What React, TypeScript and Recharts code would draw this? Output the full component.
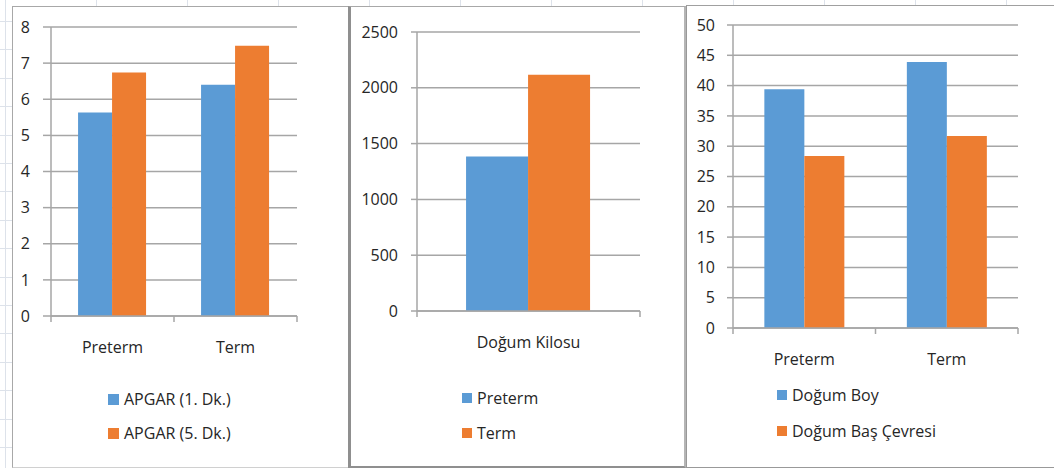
import React from 'react';
import { BarChart, Bar, XAxis, YAxis, CartesianGrid, Legend } from 'recharts';

const BLUE = '#5B9BD5';
const ORANGE = '#ED7D31';
const GRID = '#a6a6a6';
const TEXT = '#262626';
const FONT = '"Open Sans", "Noto Sans", sans-serif';

// APGAR scores by group
const apgarGroups = ['Preterm', 'Term'];
const apgar1 = [5.63, 6.4];
const apgar5 = [6.74, 7.48];
const apgarTicks = [0, 1, 2, 3, 4, 5, 6, 7, 8];

// Birth weight
const weightCategories = ['Doğum Kilosu'];
const weightPreterm = [1385];
const weightTerm = [2118];
const weightTicks = [0, 500, 1000, 1500, 2000, 2500];

// Birth length and head circumference
const sizeGroups = ['Preterm', 'Term'];
const birthLength = [39.4, 43.9];
const headCircumference = [28.4, 31.7];
const sizeTicks = [0, 5, 10, 15, 20, 25, 30, 35, 40, 45, 50];

type Series = { key: string; name: string; color: string };

interface PanelProps {
  data: Record<string, string | number>[];
  series: Series[];
  ticks: number[];
  left: number;
  top: number;
  width: number;
  height: number;
  marginTop: number;
  marginRight: number;
  yWidth: number;
  xHeight: number;
  tickSize: number;
  tickMargin: number;
  legendLeft: number;
  legendTop: number;
  legendRow: number;
  legendBox: number;
}

// Category axis tick: label in the middle, small tick marks on the band edges
const makeCategoryTick = (band: number, count: number) => (props: any) => {
  const { x, y, payload, index } = props;
  return (
    <g>
      <line x1={x - band / 2} x2={x - band / 2} y1={y} y2={y + 6} stroke={GRID} strokeWidth={1.5} />
      {index === count - 1 && (
        <line x1={x + band / 2} x2={x + band / 2} y1={y} y2={y + 6} stroke={GRID} strokeWidth={1.5} />
      )}
      <text x={x} y={y + 31} textAnchor="middle" dominantBaseline="central" fill={TEXT} fontSize={16} fontFamily={FONT}>
        {payload.value}
      </text>
    </g>
  );
};

const Panel: React.FC<PanelProps> = (p) => {
  const plotWidth = p.width - p.yWidth - p.marginRight;
  const band = plotWidth / p.data.length;
  const max = p.ticks[p.ticks.length - 1];

  // series order is kept as declared (the default legend sorts by name)
  const renderLegend = () => (
    <div style={{ fontFamily: FONT, fontSize: 16, color: TEXT }}>
      {p.series.map((s) => (
        <div key={s.key} style={{ height: p.legendRow, display: 'flex', alignItems: 'center' }}>
          <span style={{ width: p.legendBox, height: p.legendBox, background: s.color, marginRight: 5, display: 'inline-block' }} />
          <span>{s.name}</span>
        </div>
      ))}
    </div>
  );

  return (
    <div style={{ position: 'absolute', left: p.left, top: p.top }}>
      <BarChart
        width={p.width}
        height={p.height}
        data={p.data}
        margin={{ top: p.marginTop, right: p.marginRight, left: 0, bottom: 0 }}
        barCategoryGap="22%"
        barGap={0}
      >
        <CartesianGrid vertical={false} stroke={GRID} strokeWidth={1.5} />
        <XAxis
          dataKey="name"
          height={p.xHeight}
          axisLine={{ stroke: GRID, strokeWidth: 1.5 }}
          tickLine={false}
          tickSize={0}
          tickMargin={0}
          interval={0}
          tick={makeCategoryTick(band, p.data.length)}
        />
        <YAxis
          width={p.yWidth}
          domain={[0, max]}
          ticks={p.ticks}
          interval={0}
          axisLine={{ stroke: GRID, strokeWidth: 1.5 }}
          tickLine={{ stroke: GRID, strokeWidth: 1.5 }}
          tickSize={p.tickSize}
          tickMargin={p.tickMargin}
          tick={{ fill: TEXT, fontSize: 16, fontFamily: FONT }}
        />
        {p.series.map((s) => (
          <Bar key={s.key} dataKey={s.key} name={s.name} fill={s.color} isAnimationActive={false} />
        ))}
        <Legend
          layout="vertical"
          align="center"
          verticalAlign="middle"
          content={renderLegend}
          wrapperStyle={{ left: p.legendLeft, top: p.legendTop, bottom: 'auto', width: 'auto' }}
        />
      </BarChart>
    </div>
  );
};

const apgarData = apgarGroups.map((name, i) => ({ name, a1: apgar1[i], a5: apgar5[i] }));
const weightData = weightCategories.map((name, i) => ({ name, pre: weightPreterm[i], term: weightTerm[i] }));
const sizeData = sizeGroups.map((name, i) => ({ name, boy: birthLength[i], bas: headCircumference[i] }));

const App: React.FC = () => (
  <div
    style={{
      position: 'absolute',
      left: 0,
      top: 0,
      width: 1054,
      height: 468,
      overflow: 'hidden',
      background: '#fff',
      backgroundImage:
        'repeating-linear-gradient(to bottom, transparent 0, transparent 21px, #dde2ea 21px, #dde2ea 22px, transparent 22px, transparent 28.4px), repeating-linear-gradient(to right, transparent 0, transparent 5px, #dde2ea 5px, #dde2ea 6px, transparent 6px, transparent 91px)',
    }}
  >
    <div style={{ position: 'absolute', left: 12, top: 6, width: 337, height: 460, background: '#fff', borderLeft: '1px solid #a8a8a8', borderTop: '1px solid #a8a8a8', borderBottom: '1px solid #d0d0d0' }} />
    <div style={{ position: 'absolute', left: 348, top: 6, width: 333, height: 459, background: '#fff', borderLeft: '3px solid #8f8f8f', borderTop: '1px solid #a8a8a8', borderBottom: '2px solid #8f8f8f', borderRight: '2px solid #b5b5b5' }} />
    <div style={{ position: 'absolute', left: 686, top: 5, width: 380, height: 461, background: '#fff', borderLeft: '1px solid #999', borderTop: '1px solid #a0a0a0', borderBottom: '1px solid #999' }} />

    <Panel
      data={apgarData}
      series={[
        { key: 'a1', name: 'APGAR (1. Dk.)', color: BLUE },
        { key: 'a5', name: 'APGAR (5. Dk.)', color: ORANGE },
      ]}
      ticks={apgarTicks}
      left={13}
      top={7}
      width={336}
      height={459}
      marginTop={20}
      marginRight={52}
      yWidth={38}
      xHeight={150}
      tickSize={8}
      tickMargin={13}
      legendLeft={95}
      legendTop={375}
      legendRow={34}
      legendBox={11}
    />
    <Panel
      data={weightData}
      series={[
        { key: 'pre', name: 'Preterm', color: BLUE },
        { key: 'term', name: 'Term', color: ORANGE },
      ]}
      ticks={weightTicks}
      left={352}
      top={7}
      width={331}
      height={459}
      marginTop={25}
      marginRight={43}
      yWidth={65}
      xHeight={155}
      tickSize={6}
      tickMargin={13}
      legendLeft={110}
      legendTop={373}
      legendRow={35}
      legendBox={10}
    />
    <Panel
      data={sizeData}
      series={[
        { key: 'boy', name: 'Doğum Boy', color: BLUE },
        { key: 'bas', name: 'Doğum Baş Çevresi', color: ORANGE },
      ]}
      ticks={sizeTicks}
      left={687}
      top={6}
      width={367}
      height={461}
      marginTop={19}
      marginRight={36}
      yWidth={46}
      xHeight={139}
      tickSize={6}
      tickMargin={12}
      legendLeft={90}
      legendTop={371}
      legendRow={36}
      legendBox={10}
    />
  </div>
);

export default App;
